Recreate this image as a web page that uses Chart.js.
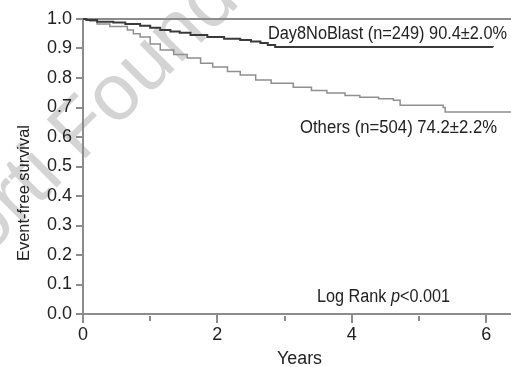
<!DOCTYPE html>
<html>
<head>
<meta charset="utf-8">
<script src="https://cdn.jsdelivr.net/npm/chart.js@4"></script>
<style>
  html, body { margin: 0; padding: 0; background: #fff; }
  #wrap { width: 511px; height: 367px; }
</style>
</head>
<body>
<div id="wrap"><canvas id="kmChart" width="511" height="367"></canvas></div>
<script>
// --- data (years, survival probability) ---
const noBlastYears = [0, 0.05, 0.21, 0.45, 0.63, 0.85, 1.0, 1.15, 1.3, 1.44, 1.6, 1.85, 2.1, 2.34, 2.5, 2.64, 2.75, 2.86, 6.1];
const noBlastSurv  = [1.0, 0.997, 0.991, 0.988, 0.983, 0.977, 0.970, 0.963, 0.958, 0.953, 0.946, 0.939, 0.933, 0.929, 0.924, 0.919, 0.912, 0.905, 0.904];

const othersYears = [0, 0.1, 0.21, 0.4, 0.66, 0.75, 0.85, 1.0, 1.15, 1.35, 1.55, 1.75, 1.93, 2.15, 2.34, 2.57, 2.8, 3.13, 3.4, 3.63, 3.9, 4.12, 4.4, 4.62, 4.72, 5.36, 5.39, 6.37];
const othersSurv  = [1.0, 0.993, 0.983, 0.975, 0.963, 0.95, 0.939, 0.915, 0.895, 0.88, 0.868, 0.85, 0.837, 0.822, 0.81, 0.793, 0.782, 0.769, 0.758, 0.749, 0.741, 0.735, 0.73, 0.725, 0.708, 0.70, 0.685, 0.685];

const xTickLabels = ["0", "2", "4", "6"];
const minorTicks = [1, 3, 5];

const FONT = "'Liberation Sans', Arial, sans-serif";
const AXIS_GREY = "#8c8c8c";

const toPoints = (xs, ys) => xs.map((x, i) => ({ x: x, y: ys[i] }));

// draws text pieces squeezed to a given width (the original uses a condensed face)
function squeezeText(ctx, parts, x, y, width) {
  let total = 0;
  parts.forEach(([t, f]) => { ctx.font = f; total += ctx.measureText(t).width; });
  ctx.save();
  ctx.translate(x, y);
  ctx.scale(width / total, 1);
  let cx = 0;
  parts.forEach(([t, f]) => {
    ctx.font = f;
    ctx.fillText(t, cx, 0);
    cx += ctx.measureText(t).width;
  });
  ctx.restore();
}

const extras = {
  id: "extras",
  beforeDraw(chart) {
    const ctx = chart.ctx;
    ctx.save();
    ctx.font = "80px " + FONT;
    ctx.fillStyle = "#d4d4d4";
    const pre = ctx.measureText("Ferrata Storti ").width;
    ctx.translate(81, 163);
    ctx.rotate(-Math.PI / 4);
    ctx.fillText("Ferrata Storti Foundation", -pre, 0);
    ctx.restore();
  },
  afterDraw(chart) {
    const ctx = chart.ctx;
    const x = chart.scales.x;
    const area = chart.chartArea;
    ctx.save();
    // minor x ticks
    ctx.strokeStyle = AXIS_GREY;
    ctx.lineWidth = 2;
    minorTicks.forEach((v) => {
      const px = Math.round(x.getPixelForValue(v));
      ctx.beginPath();
      ctx.moveTo(px, area.bottom + 2);
      ctx.lineTo(px, area.bottom + 7);
      ctx.stroke();
    });

    const f = "18px " + FONT;
    ctx.fillStyle = "#222";
    ctx.textBaseline = "alphabetic";
    ctx.textAlign = "left";
    squeezeText(ctx, [["Day8NoBlast (n=249) 90.4±2.0%", f]], 268, 39, 239);
    squeezeText(ctx, [["Others (n=504) 74.2±2.2%", f]], 300, 133, 197);
    squeezeText(ctx, [["Log Rank ", f], ["p", "italic " + f], ["<0.001", f]], 317, 302, 133);
    squeezeText(ctx, [["Years", f]], 277, 364, 45);

    ctx.translate(29, 261);
    ctx.rotate(-Math.PI / 2);
    squeezeText(ctx, [["Event-free survival", "17px " + FONT]], 0, 0, 136);
    ctx.restore();
  }
};

new Chart(document.getElementById("kmChart"), {
  type: "line",
  data: {
    datasets: [
      {
        label: "Day8NoBlast",
        data: toPoints(noBlastYears, noBlastSurv),
        borderColor: "#3a3a3a",
        borderWidth: 2,
        stepped: true,
        pointRadius: 0,
        clip: false,
      },
      {
        label: "Others",
        data: toPoints(othersYears, othersSurv),
        borderColor: "#8f8f8f",
        borderWidth: 1.5,
        stepped: true,
        pointRadius: 0,
        clip: false,
      },
    ],
  },
  options: {
    responsive: false,
    animation: false,
    layout: { padding: { top: 19, right: 0, bottom: 0, left: 0 } },
    plugins: { legend: { display: false }, tooltip: { enabled: false } },
    scales: {
      x: {
        type: "linear",
        min: 0,
        max: 6.37,
        afterFit: (s) => { s.height = 53; },
        border: { display: true, color: AXIS_GREY, width: 2 },
        grid: {
          drawOnChartArea: false,
          tickLength: 9,
          lineWidth: 2,
          tickColor: (c) => (c.tick && c.tick.value % 2 === 0 ? AXIS_GREY : "rgba(0,0,0,0)"),
        },
        ticks: {
          stepSize: 1,
          includeBounds: false,
          maxRotation: 0,
          autoSkip: false,
          padding: 1,
          color: "#222",
          font: { family: FONT, size: 18 },
          callback: (v) => (v % 2 === 0 ? xTickLabels[v / 2] : ""),
        },
      },
      y: {
        min: 0,
        max: 1,
        afterFit: (s) => { s.width = 83; },
        border: { display: true, color: AXIS_GREY, width: 2 },
        grid: {
          drawOnChartArea: true,
          tickLength: 7,
          lineWidth: 2,
          color: (c) => (c.tick && Math.abs(c.tick.value - 1) < 1e-6 ? AXIS_GREY : "rgba(0,0,0,0)"),
          tickColor: AXIS_GREY,
        },
        ticks: {
          stepSize: 0.1,
          padding: 4,
          color: "#222",
          font: { family: FONT, size: 18 },
          callback: (v) => v.toFixed(1),
        },
      },
    },
  },
  plugins: [extras],
});
</script>
</body>
</html>
